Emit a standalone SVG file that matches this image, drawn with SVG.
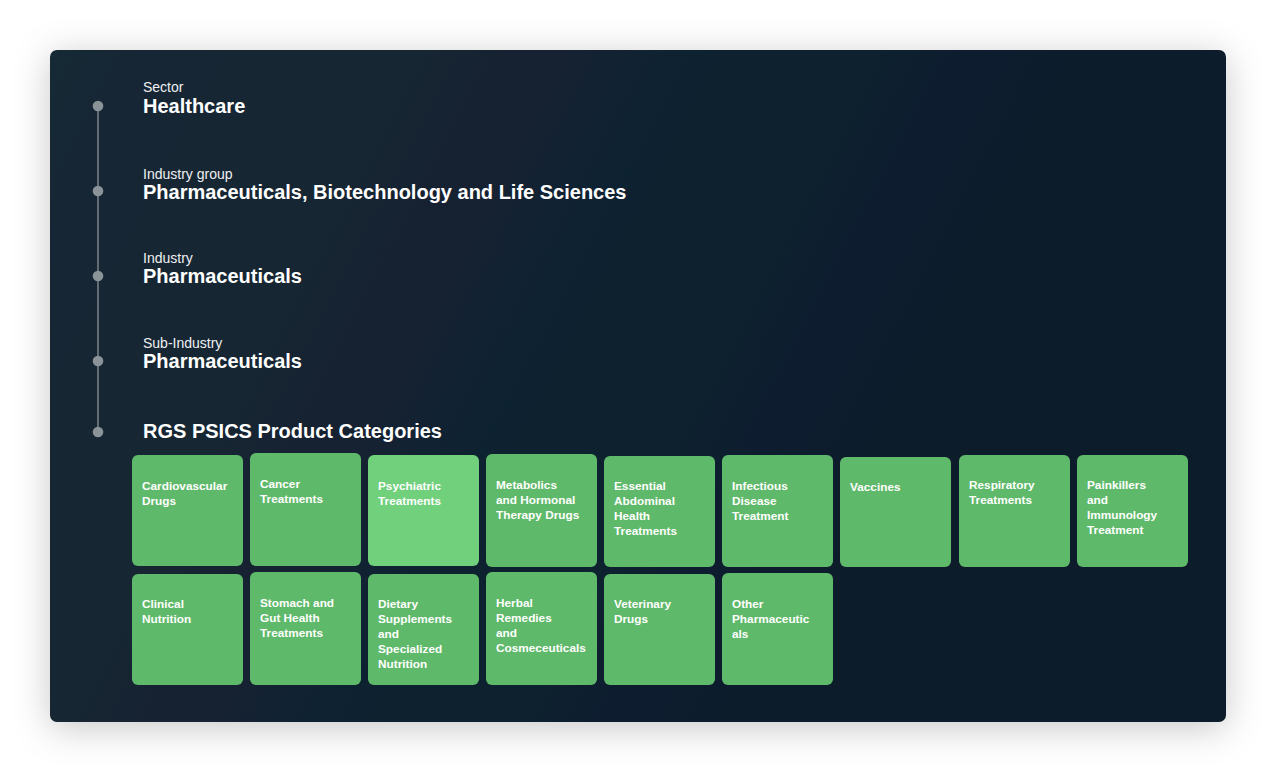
<svg xmlns="http://www.w3.org/2000/svg" width="1276" height="773" viewBox="0 0 1276 773">
<defs>
<linearGradient id="bg" x1="0" y1="0" x2="1" y2="0.3">
<stop offset="0" stop-color="#162935"/>
<stop offset="1" stop-color="#0c1b2a"/>
</linearGradient>
<filter id="sh" x="-10%" y="-10%" width="120%" height="130%">
<feDropShadow dx="0" dy="6" stdDeviation="18" flood-color="#000" flood-opacity="0.22"/>
</filter>
<style>
.lab{font-family:"Liberation Sans",Arial,sans-serif;font-size:14px;fill:#eef1f3}
.val{font-family:"Liberation Sans",Arial,sans-serif;font-size:20px;font-weight:bold;fill:#ffffff}
.dot{fill:#8a9398}
.tile{fill:#5fb96a}
.tile.hl{fill:#70d07c}
.tt{font-family:"Liberation Sans",Arial,sans-serif;font-size:11.8px;font-weight:bold;fill:#ffffff}
</style>
</defs>
<rect width="1276" height="773" fill="#ffffff"/>
<rect x="50" y="50" width="1176" height="672" rx="7" fill="url(#bg)" filter="url(#sh)"/>
<g id="connectors">
<line x1="98" y1="106" x2="98" y2="432" stroke="#8a9398" stroke-width="1.3"/>
</g>
<g id="sector"><circle class="dot" cx="98" cy="106" r="5.3"/><text class="lab" x="143" y="92">Sector</text><text class="val" x="143" y="113">Healthcare</text></g>
<g id="industry-group"><circle class="dot" cx="98" cy="191" r="5.3"/><text class="lab" x="143" y="179">Industry group</text><text class="val" x="143" y="199">Pharmaceuticals, Biotechnology and Life Sciences</text></g>
<g id="industry"><circle class="dot" cx="98" cy="276" r="5.3"/><text class="lab" x="143" y="263">Industry</text><text class="val" x="143" y="283">Pharmaceuticals</text></g>
<g id="sub-industry"><circle class="dot" cx="98" cy="361" r="5.3"/><text class="lab" x="143" y="348">Sub-Industry</text><text class="val" x="143" y="368">Pharmaceuticals</text></g>
<g id="categories"><circle class="dot" cx="98" cy="432" r="5.3"/><text class="val" x="143" y="438">RGS PSICS Product Categories</text></g>

<g id="t-cardio"><rect class="tile" x="132" y="455" width="111" height="111" rx="6"/><text class="tt" x="142" y="489.5"><tspan x="142">Cardiovascular</tspan><tspan x="142" dy="15">Drugs</tspan></text></g>
<g id="t-cancer"><rect class="tile" x="250" y="453" width="111" height="113" rx="6"/><text class="tt" x="260" y="488"><tspan x="260">Cancer</tspan><tspan x="260" dy="15">Treatments</tspan></text></g>
<g id="t-psych"><rect class="tile hl" x="368" y="455" width="111" height="111" rx="6"/><text class="tt" x="378" y="489.5"><tspan x="378">Psychiatric</tspan><tspan x="378" dy="15">Treatments</tspan></text></g>
<g id="t-metab"><rect class="tile" x="486" y="454" width="111" height="113" rx="6"/><text class="tt" x="496" y="488.8"><tspan x="496">Metabolics</tspan><tspan x="496" dy="15">and Hormonal</tspan><tspan x="496" dy="15">Therapy Drugs</tspan></text></g>
<g id="t-abdom"><rect class="tile" x="604" y="456" width="111" height="111" rx="6"/><text class="tt" x="614" y="490"><tspan x="614">Essential</tspan><tspan x="614" dy="15">Abdominal</tspan><tspan x="614" dy="15">Health</tspan><tspan x="614" dy="15">Treatments</tspan></text></g>
<g id="t-infect"><rect class="tile" x="722" y="455" width="111" height="112" rx="6"/><text class="tt" x="732" y="489.5"><tspan x="732">Infectious</tspan><tspan x="732" dy="15">Disease</tspan><tspan x="732" dy="15">Treatment</tspan></text></g>
<g id="t-vacc"><rect class="tile" x="840" y="457" width="111" height="110" rx="6"/><text class="tt" x="850" y="491"><tspan x="850">Vaccines</tspan></text></g>
<g id="t-resp"><rect class="tile" x="959" y="455" width="111" height="112" rx="6"/><text class="tt" x="969" y="489.3"><tspan x="969">Respiratory</tspan><tspan x="969" dy="15">Treatments</tspan></text></g>
<g id="t-pain"><rect class="tile" x="1077" y="455" width="111" height="112" rx="6"/><text class="tt" x="1087" y="489.3"><tspan x="1087">Painkillers</tspan><tspan x="1087" dy="15">and</tspan><tspan x="1087" dy="15">Immunology</tspan><tspan x="1087" dy="15">Treatment</tspan></text></g>

<g id="t-clin"><rect class="tile" x="132" y="574" width="111" height="111" rx="6"/><text class="tt" x="142" y="608.3"><tspan x="142">Clinical</tspan><tspan x="142" dy="15">Nutrition</tspan></text></g>
<g id="t-stom"><rect class="tile" x="250" y="572" width="111" height="113" rx="6"/><text class="tt" x="260" y="606.7"><tspan x="260">Stomach and</tspan><tspan x="260" dy="15">Gut Health</tspan><tspan x="260" dy="15">Treatments</tspan></text></g>
<g id="t-diet"><rect class="tile" x="368" y="574" width="111" height="111" rx="6"/><text class="tt" x="378" y="608.3"><tspan x="378">Dietary</tspan><tspan x="378" dy="15">Supplements</tspan><tspan x="378" dy="15">and</tspan><tspan x="378" dy="15">Specialized</tspan><tspan x="378" dy="15">Nutrition</tspan></text></g>
<g id="t-herb"><rect class="tile" x="486" y="572" width="111" height="113" rx="6"/><text class="tt" x="496" y="606.7"><tspan x="496">Herbal</tspan><tspan x="496" dy="15">Remedies</tspan><tspan x="496" dy="15">and</tspan><tspan x="496" dy="15">Cosmeceuticals</tspan></text></g>
<g id="t-vet"><rect class="tile" x="604" y="574" width="111" height="111" rx="6"/><text class="tt" x="614" y="608.3"><tspan x="614">Veterinary</tspan><tspan x="614" dy="15">Drugs</tspan></text></g>
<g id="t-other"><rect class="tile" x="722" y="573" width="111" height="112" rx="6"/><text class="tt" x="732" y="607.7"><tspan x="732">Other</tspan><tspan x="732" dy="15">Pharmaceutic</tspan><tspan x="732" dy="15">als</tspan></text></g>
</svg>
